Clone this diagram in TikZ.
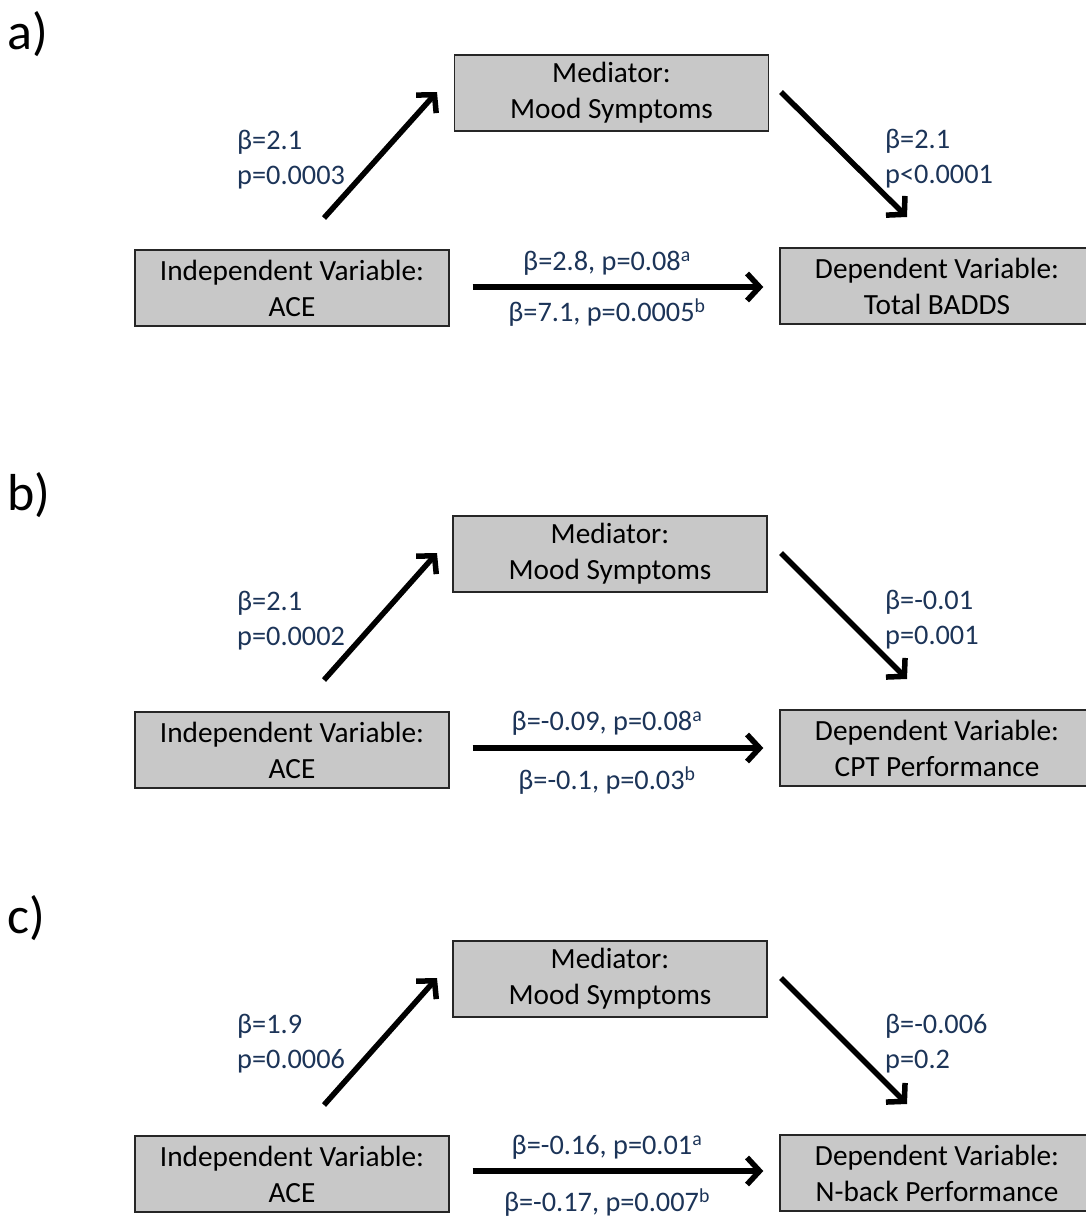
\documentclass[tikz,border=0pt]{standalone}
\usepackage{fontspec}
\setmainfont{Carlito}
\usetikzlibrary{arrows.meta}
\definecolor{boxgray}{RGB}{200,200,200}
\definecolor{lbl}{RGB}{28,52,88}
\tikzset{
  vbox/.style={draw=black!85, line width=1.4pt, fill=boxgray, minimum width=314pt,
    minimum height=76pt, align=center, inner sep=0pt, font=\fontsize{29.3}{36}\selectfont},
  arr/.style={line width=5.5pt, -{Straight Barb[length=12.5pt,width=27pt]}},
  lab/.style={text=lbl, inner sep=0pt, font=\fontsize{28.3}{35}\selectfont},
  lablr/.style={lab, align=left, anchor=west},
  plabel/.style={inner sep=0pt, anchor=west, font=\fontsize{52}{58}\selectfont}
}
\begin{document}
\begin{tikzpicture}[x=1pt,y=-1pt]
\useasboundingbox (0,0) rectangle (1086,1218);

% ---------- panel a ----------
\node[plabel] (pa) at (7,34) {a)};
\node[vbox] (med-a) at (611.5,93) {Mediator:\\Mood Symptoms};
\node[vbox] (ind-a) at (292,288) {Independent Variable:\\ACE};
\node[vbox] (dep-a) at (937,286) {Dependent Variable:\\Total BADDS};
\coordinate (u1-a) at (324,218); \coordinate (u2-a) at (437,92);
\coordinate (d1-a) at (781,92);  \coordinate (d2-a) at (907,217);
\draw[arr] (u1-a) -- (u2-a);
\draw[arr] (d1-a) -- (d2-a);
\draw[arr, shorten <=23pt, shorten >=16pt] (ind-a.east |- 0,287) -- (dep-a.west |- 0,287);
\node[lablr] (la-a) at (237,160) {β=2.1\\p=0.0003};
\node[lablr] (ra-a) at (885,159) {β=2.1\\p<0.0001};
\node[lab] (ta-a) at (607,263) {β=2.8, p=0.08\textsuperscript{a}};
\node[lab] (ba-a) at (607,313) {β=7.1, p=0.0005\textsuperscript{b}};

% ---------- panel b ----------
\node[plabel] (pb) at (7,495) {b)};
\node[vbox] (med-b) at (610,554) {Mediator:\\Mood Symptoms};
\node[vbox] (ind-b) at (292,750) {Independent Variable:\\ACE};
\node[vbox] (dep-b) at (937,748) {Dependent Variable:\\CPT Performance};
\coordinate (u1-b) at (324,680); \coordinate (u2-b) at (437,553);
\coordinate (d1-b) at (781,553); \coordinate (d2-b) at (907,679);
\draw[arr] (u1-b) -- (u2-b);
\draw[arr] (d1-b) -- (d2-b);
\draw[arr, shorten <=23pt, shorten >=16pt] (ind-b.east |- 0,748) -- (dep-b.west |- 0,748);
\node[lablr] (la-b) at (237,621) {β=2.1\\p=0.0002};
\node[lablr] (ra-b) at (885,620) {β=-0.01\\p=0.001};
\node[lab] (ta-b) at (607,723) {β=-0.09, p=0.08\textsuperscript{a}};
\node[lab] (ba-b) at (607,781) {β=-0.1, p=0.03\textsuperscript{b}};

% ---------- panel c ----------
\node[plabel] (pc) at (7,918) {c)};
\node[vbox] (med-c) at (610,979) {Mediator:\\Mood Symptoms};
\node[vbox] (ind-c) at (292,1174) {Independent Variable:\\ACE};
\node[vbox] (dep-c) at (937,1173) {Dependent Variable:\\N-back Performance};
\coordinate (u1-c) at (324,1105); \coordinate (u2-c) at (437,978);
\coordinate (d1-c) at (781,978);  \coordinate (d2-c) at (907,1104);
\draw[arr] (u1-c) -- (u2-c);
\draw[arr] (d1-c) -- (d2-c);
\draw[arr, shorten <=23pt, shorten >=16pt] (ind-c.east |- 0,1171) -- (dep-c.west |- 0,1171);
\node[lablr] (la-c) at (237,1044) {β=1.9\\p=0.0006};
\node[lablr] (ra-c) at (885,1044) {β=-0.006\\p=0.2};
\node[lab] (ta-c) at (607,1147) {β=-0.16, p=0.01\textsuperscript{a}};
\node[lab] (ba-c) at (607,1203) {β=-0.17, p=0.007\textsuperscript{b}};
\end{tikzpicture}
\end{document}
